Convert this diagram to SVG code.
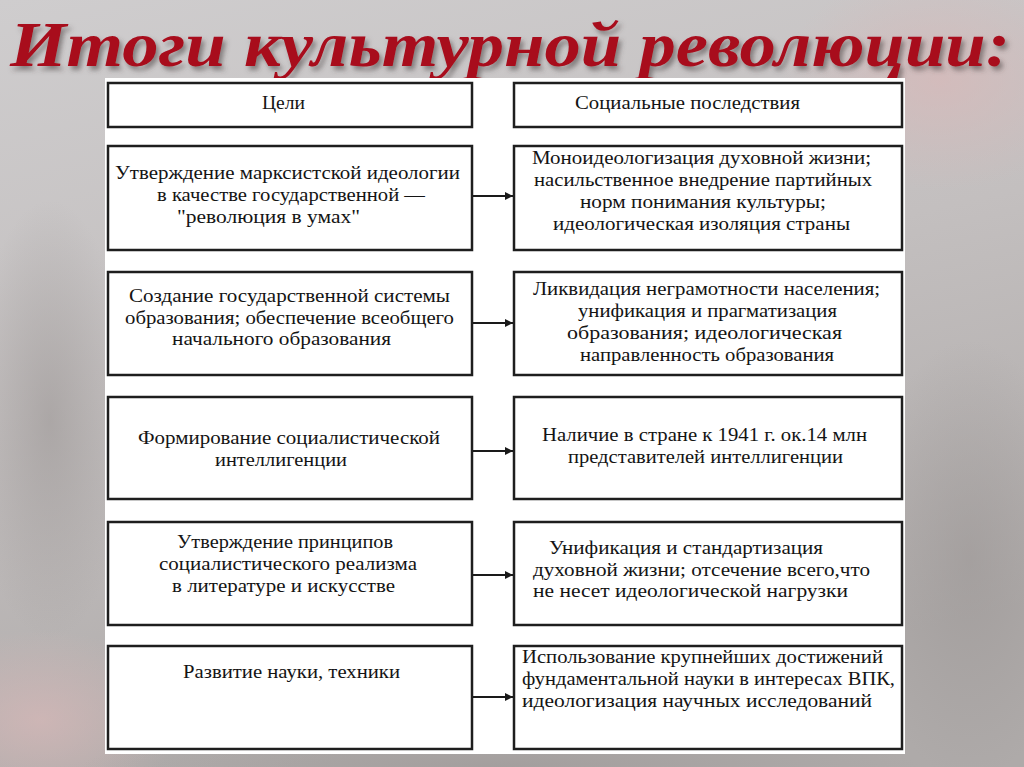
<svg xmlns="http://www.w3.org/2000/svg" width="1024" height="767" viewBox="0 0 1024 767">
<defs>
<linearGradient id="bg" x1="0" y1="0" x2="0.3" y2="1">
<stop offset="0" stop-color="#cfcdce"/>
<stop offset="0.5" stop-color="#c3bfbf"/>
<stop offset="1" stop-color="#aeaaa9"/>
</linearGradient>
<radialGradient id="pink" cx="0.5" cy="0.5" r="0.5">
<stop offset="0" stop-color="#d8b8b8" stop-opacity="0.7"/>
<stop offset="1" stop-color="#d8b8b8" stop-opacity="0"/>
</radialGradient>
<radialGradient id="dark" cx="0.5" cy="0.5" r="0.5">
<stop offset="0" stop-color="#9c9796" stop-opacity="0.6"/>
<stop offset="1" stop-color="#9c9796" stop-opacity="0"/>
</radialGradient>
<filter id="sh" x="-5%" y="-20%" width="110%" height="150%">
<feDropShadow dx="3" dy="4" stdDeviation="2.5" flood-color="#4a4040" flood-opacity="0.55"/>
</filter>
<marker id="arr" viewBox="0 0 10 10" refX="10" refY="5" markerWidth="8" markerHeight="8" markerUnits="userSpaceOnUse" orient="auto">
<path d="M0,0 L10,5 L0,10 z" fill="#1a1a1a"/>
</marker>
<style>
.box{fill:#fff;stroke:#1e1e1e;stroke-width:2.5}
.t{font-family:"Liberation Serif","Times New Roman",serif;font-size:19px;fill:#141414}
.c{stroke:#1a1a1a;stroke-width:2;fill:none;marker-end:url(#arr)}
.title{font-family:"Liberation Serif","Times New Roman",serif;font-size:64px;font-style:italic;font-weight:bold;fill:#a80a1c}
</style>
</defs>
<rect x="0" y="0" width="1024" height="767" fill="url(#bg)"/>
<ellipse cx="940" cy="80" rx="160" ry="110" fill="url(#pink)"/>
<ellipse cx="40" cy="720" rx="140" ry="90" fill="url(#pink)"/>
<ellipse cx="970" cy="560" rx="110" ry="220" fill="url(#dark)"/>
<ellipse cx="500" cy="767" rx="420" ry="40" fill="url(#dark)"/>
<ellipse cx="50" cy="420" rx="80" ry="220" fill="url(#dark)"/>

<g id="title">
<text x="10" y="66" class="title" filter="url(#sh)" textLength="1000" lengthAdjust="spacingAndGlyphs">Итоги культурной революции:</text>
</g>

<rect id="panel" x="105" y="78" width="800" height="676" fill="#ffffff"/>

<g id="h-goals"><rect class="box" x="108" y="83" width="364" height="44"/><text class="t" x="262" y="109" textLength="43" lengthAdjust="spacingAndGlyphs">Цели</text></g>
<g id="h-effects"><rect class="box" x="514" y="83" width="388" height="44"/><text class="t" x="575" y="109" textLength="225" lengthAdjust="spacingAndGlyphs">Социальные последствия</text></g>

<g id="g1"><rect class="box" x="108" y="146" width="364" height="104"/>
<text class="t" x="115" y="179" textLength="345" lengthAdjust="spacingAndGlyphs">Утверждение марксистской идеологии</text>
<text class="t" x="157" y="201" textLength="268" lengthAdjust="spacingAndGlyphs">в качестве государственной —</text>
<text class="t" x="177" y="223" textLength="183" lengthAdjust="spacingAndGlyphs">"революция в умах"</text></g>
<g id="e1"><rect class="box" x="514" y="146" width="388" height="104"/>
<text class="t" x="532" y="164" textLength="339" lengthAdjust="spacingAndGlyphs">Моноидеологизация духовной жизни;</text>
<text class="t" x="534" y="186" textLength="338" lengthAdjust="spacingAndGlyphs">насильственное внедрение партийных</text>
<text class="t" x="580" y="208" textLength="246" lengthAdjust="spacingAndGlyphs">норм понимания культуры;</text>
<text class="t" x="553" y="230" textLength="297" lengthAdjust="spacingAndGlyphs">идеологическая изоляция страны</text></g>

<g id="g2"><rect class="box" x="108" y="272" width="364" height="103"/>
<text class="t" x="129" y="302" textLength="321" lengthAdjust="spacingAndGlyphs">Создание государственной системы</text>
<text class="t" x="125" y="324" textLength="329" lengthAdjust="spacingAndGlyphs">образования; обеспечение всеобщего</text>
<text class="t" x="172" y="345" textLength="219" lengthAdjust="spacingAndGlyphs">начального образования</text></g>
<g id="e2"><rect class="box" x="514" y="272" width="388" height="103"/>
<text class="t" x="533" y="295" textLength="347" lengthAdjust="spacingAndGlyphs">Ликвидация неграмотности населения;</text>
<text class="t" x="578" y="317" textLength="259" lengthAdjust="spacingAndGlyphs">унификация и прагматизация</text>
<text class="t" x="567" y="339" textLength="275" lengthAdjust="spacingAndGlyphs">образования;  идеологическая</text>
<text class="t" x="580" y="361" textLength="254" lengthAdjust="spacingAndGlyphs">направленность образования</text></g>

<g id="g3"><rect class="box" x="108" y="397" width="364" height="102"/>
<text class="t" x="138" y="444" textLength="302" lengthAdjust="spacingAndGlyphs">Формирование социалистической</text>
<text class="t" x="215" y="466" textLength="132" lengthAdjust="spacingAndGlyphs">интеллигенции</text></g>
<g id="e3"><rect class="box" x="514" y="397" width="388" height="102"/>
<text class="t" x="542" y="441" textLength="325" lengthAdjust="spacingAndGlyphs">Наличие в стране к 1941 г. ок.14 млн</text>
<text class="t" x="568" y="463" textLength="275" lengthAdjust="spacingAndGlyphs">представителей интеллигенции</text></g>

<g id="g4"><rect class="box" x="108" y="522" width="364" height="103"/>
<text class="t" x="177" y="548" textLength="216" lengthAdjust="spacingAndGlyphs">Утверждение принципов</text>
<text class="t" x="159" y="570" textLength="258" lengthAdjust="spacingAndGlyphs">социалистического реализма</text>
<text class="t" x="172" y="592" textLength="223" lengthAdjust="spacingAndGlyphs">в литературе и искусстве</text></g>
<g id="e4"><rect class="box" x="514" y="522" width="388" height="103"/>
<text class="t" x="549" y="554" textLength="274" lengthAdjust="spacingAndGlyphs">Унификация и стандартизация</text>
<text class="t" x="533" y="576" textLength="337" lengthAdjust="spacingAndGlyphs">духовной жизни; отсечение всего,что</text>
<text class="t" x="533" y="597" textLength="315" lengthAdjust="spacingAndGlyphs">не несет идеологической  нагрузки</text></g>

<g id="g5"><rect class="box" x="108" y="646" width="364" height="103"/>
<text class="t" x="183" y="678" textLength="217" lengthAdjust="spacingAndGlyphs">Развитие науки, техники</text></g>
<g id="e5"><rect class="box" x="514" y="646" width="388" height="103"/>
<text class="t" x="522" y="663" textLength="361" lengthAdjust="spacingAndGlyphs">Использование крупнейших достижений</text>
<text class="t" x="522" y="685" textLength="373" lengthAdjust="spacingAndGlyphs">фундаментальной науки в интересах ВПК,</text>
<text class="t" x="522" y="707" textLength="350" lengthAdjust="spacingAndGlyphs">идеологизация  научных исследований</text></g>

<g id="connectors">
<line class="c" x1="473" y1="196" x2="513" y2="196"/>
<line class="c" x1="473" y1="323" x2="513" y2="323"/>
<line class="c" x1="473" y1="451" x2="513" y2="451"/>
<line class="c" x1="473" y1="575" x2="513" y2="575"/>
<line class="c" x1="473" y1="697" x2="513" y2="697"/>
</g>
</svg>
